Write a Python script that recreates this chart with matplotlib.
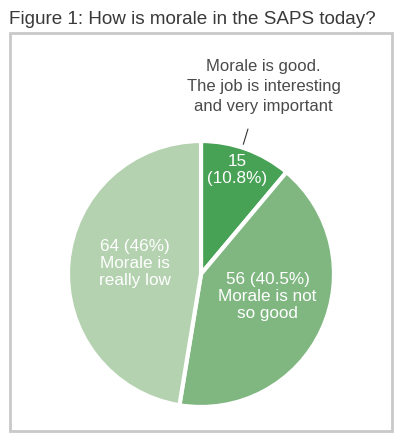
import matplotlib.pyplot as plt
import matplotlib.patches as patches

plt.rcParams["font.family"] = ["Liberation Sans", "DejaVu Sans"]

# Data
counts = [15, 56, 64]
pct_labels = ["10.8%", "40.5%", "46%"]
descriptions = ["Morale is good.\nThe job is interesting\nand very important",
                "Morale is not\nso good",
                "Morale is\nreally low"]
colors = ["#48a256", "#80b781", "#b4d2b0"]

fig = plt.figure(figsize=(3.98, 4.41), dpi=100)

# Title and frame
fig.text(9 / 398, 1 - 20 / 441, "Figure 1: How is morale in the SAPS today?",
         fontsize=13.6, color="#3a3a3a", va="center", ha="left")
fig.patches.append(patches.Rectangle((10 / 398, 1 - 431 / 441), 382 / 398, 398 / 441,
                                     transform=fig.transFigure, fill=False,
                                     edgecolor="#c9c9c9", lw=2))

ax = fig.add_axes([68 / 398, 34 / 441, 266 / 398, 266 / 441])
ax.pie(counts, colors=colors, startangle=90, counterclock=False,
       wedgeprops=dict(edgecolor="white", linewidth=3))
ax.set_xlim(-1, 1)
ax.set_ylim(-1, 1)
ax.set_aspect("equal")
ax.axis("off")

# Labels inside wedges
lab_kw = dict(color="white", fontsize=12.3, ha="center", va="center", linespacing=1.15)
ax.text(0.27, 0.78, "%d\n(%s)" % (counts[0], pct_labels[0]), **lab_kw)
ax.text(0.50, -0.17, "%d (%s)\n%s" % (counts[1], pct_labels[1], descriptions[1]), **lab_kw)
ax.text(-0.50, 0.08, "%d (%s)\n%s" % (counts[2], pct_labels[2], descriptions[2]), **lab_kw)

# Callout for the small wedge
ax.text(0.47, 1.41, descriptions[0], ha="center", va="center", fontsize=12,
        color="#4a4a4a", linespacing=1.42, clip_on=False)
ax.annotate("", xy=(0.318, 0.975), xytext=(0.353, 1.09), annotation_clip=False,
            arrowprops=dict(arrowstyle="-", color="#333333", lw=0.8,
                            shrinkA=0, shrinkB=0))

fig.savefig("out.png", dpi=100)
